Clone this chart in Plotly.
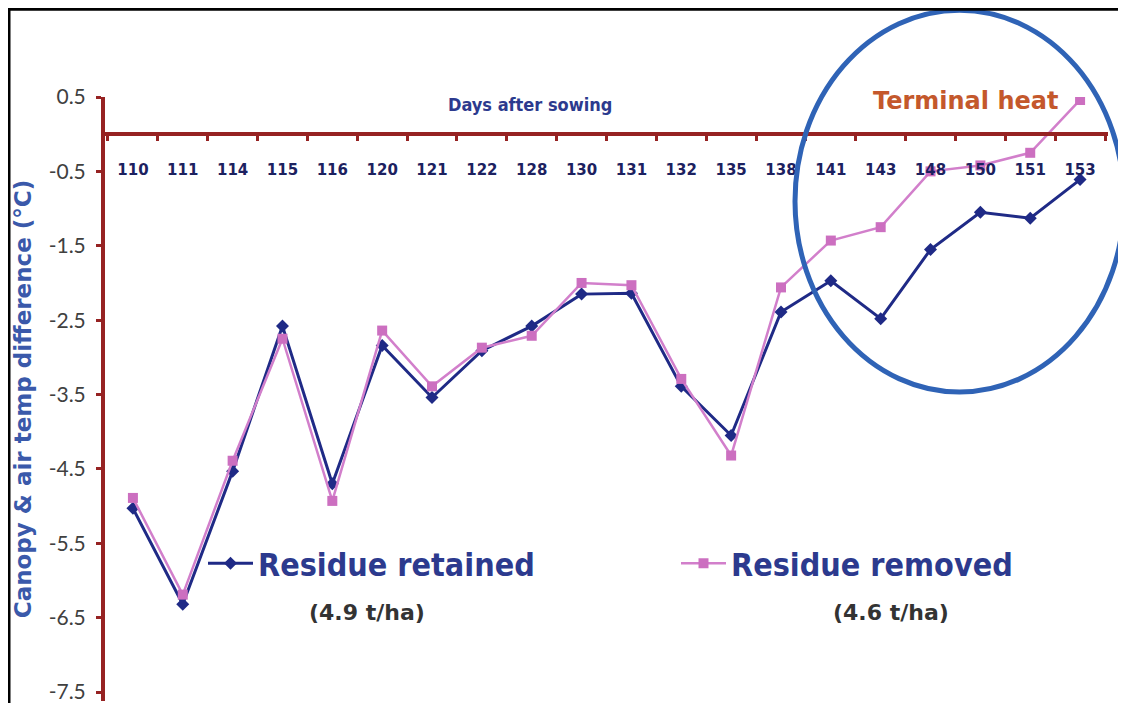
import plotly.graph_objects as go

days = ["110", "111", "114", "115", "116", "120", "121", "122", "128", "130",
        "131", "132", "135", "138", "141", "143", "148", "150", "151", "153"]
retained = [-5.03, -6.32, -4.53, -2.58, -4.70, -2.84, -3.54, -2.91, -2.58, -2.15,
            -2.14, -3.39, -4.05, -2.39, -1.97, -2.48, -1.55, -1.05, -1.13, -0.61]
removed = [-4.89, -6.19, -4.39, -2.75, -4.93, -2.64, -3.39, -2.87, -2.71, -2.00,
           -2.03, -3.29, -4.32, -2.06, -1.43, -1.25, -0.50, -0.42, -0.25, 0.46]
y_ticks = [0.5, -0.5, -1.5, -2.5, -3.5, -4.5, -5.5, -6.5, -7.5]

NAVY = "#1f2a86"
PINK = "#d27fcb"
AXIS = "#962222"
TEXTBLUE = "#2c3a8e"

YMIN, YMAX = -7.62, 0.5

# the page has an 8px body margin, so the figure is 8px smaller than the window
W, H = 1118, 695
PL, PT = 97, 89           # plot-area left / top in figure px
PW, PH = 1003, 606        # plot-area size


def px(xs):   # screen x -> paper x
    return (xs - 8 - PL) / PW


def py(ys):   # screen y -> paper y
    return (PT + PH - (ys - 8)) / PH


fig = go.Figure()
fig.add_trace(go.Scatter(
    x=days, y=retained, mode="lines+markers", name="Residue retained",
    line=dict(color=NAVY, width=3),
    marker=dict(symbol="diamond", size=10, color=NAVY),
    legend="legend",
))
fig.add_trace(go.Scatter(
    x=days, y=removed, mode="lines+markers", name="Residue removed",
    line=dict(color=PINK, width=2.5),
    marker=dict(symbol="square", size=10, color="#cc6fc0"),
    legend="legend2",
))

legend_font = dict(family="DejaVu Sans Condensed, Liberation Sans Narrow, Arial Narrow, sans-serif",
                   size=32, color=TEXTBLUE, weight="bold")

fig.update_layout(
    width=W, height=H,
    margin=dict(l=PL, r=W - PL - PW, t=PT, b=H - PT - PH),
    paper_bgcolor="white", plot_bgcolor="white",
    showlegend=True,
    legend=dict(x=px(203), y=py(565), xanchor="left", yanchor="middle",
                font=legend_font, bgcolor="rgba(0,0,0,0)", itemwidth=45),
    legend2=dict(x=px(676), y=py(565), xanchor="left", yanchor="middle",
                 font=legend_font, bgcolor="rgba(0,0,0,0)", itemwidth=45),
    xaxis=dict(
        type="category",
        range=[-0.56, len(days) - 1 + 0.56],
        anchor="free",
        position=(0 - YMIN) / (YMAX - YMIN),
        side="bottom",
        showline=True, linecolor=AXIS, linewidth=4,
        ticks="outside", tickson="boundaries", ticklen=5, tickwidth=3, tickcolor=AXIS,
        tickfont=dict(family="DejaVu Sans, Verdana, sans-serif", size=15, color="#1c2160",
                      weight="bold"),
        ticklabelstandoff=21,
        ticklabeloverflow="allow",
        showgrid=False, zeroline=False,
    ),
    yaxis=dict(
        range=[YMIN, YMAX],
        tickmode="array", tickvals=y_ticks, ticktext=[f"{v:.1f}" for v in y_ticks],
        showline=True, linecolor=AXIS, linewidth=4,
        ticks="outside", ticklen=5, tickwidth=3, tickcolor=AXIS,
        tickfont=dict(family="Lato, Open Sans, sans-serif", size=21, color="#404040"),
        ticklabelstandoff=6,
        ticklabeloverflow="allow",
        showgrid=False, zeroline=False,
        title=dict(text="Canopy & air temp difference (°C)", standoff=12,
                   font=dict(family="DejaVu Sans, Verdana, sans-serif", size=23,
                             color="#3a59aa", weight="bold")),
    ),
)

annotations = [
    dict(text="Days after sowing", x=px(530), y=py(105), xref="paper", yref="paper",
         showarrow=False, xanchor="center", yanchor="middle",
         font=dict(family="DejaVu Sans Condensed, Liberation Sans Narrow, Arial Narrow, sans-serif",
                   size=18, color=TEXTBLUE, weight="bold")),
    dict(text="Terminal heat", x=px(965), y=py(101), xref="paper", yref="paper",
         showarrow=False, xanchor="center", yanchor="middle",
         font=dict(family="DejaVu Sans, Verdana, sans-serif", size=24,
                   color="#c4582c", weight="bold")),
    dict(text="(4.9 t/ha)", x=px(367), y=py(614), xref="paper", yref="paper",
         showarrow=False, xanchor="center", yanchor="middle",
         font=dict(family="DejaVu Sans, Verdana, sans-serif", size=22,
                   color="#333333", weight="bold")),
    dict(text="(4.6 t/ha)", x=px(891), y=py(614), xref="paper", yref="paper",
         showarrow=False, xanchor="center", yanchor="middle",
         font=dict(family="DejaVu Sans, Verdana, sans-serif", size=22,
                   color="#333333", weight="bold")),
]
fig.update_layout(annotations=annotations)

shapes = [
    # highlight ellipse around the terminal heat period
    dict(type="circle", xref="paper", yref="paper",
         x0=px(795), x1=px(1124), y0=py(393), y1=py(10),
         line=dict(color="#2f63b6", width=5), layer="above"),
    # outer frame (top and left)
    dict(type="line", xref="paper", yref="paper",
         x0=px(8), x1=px(1130), y0=py(9), y1=py(9),
         line=dict(color="black", width=3)),
    dict(type="line", xref="paper", yref="paper",
         x0=px(9), x1=px(9), y0=py(710), y1=py(8),
         line=dict(color="black", width=3)),
]
fig.update_layout(shapes=shapes)

fig.write_html("out.html")
